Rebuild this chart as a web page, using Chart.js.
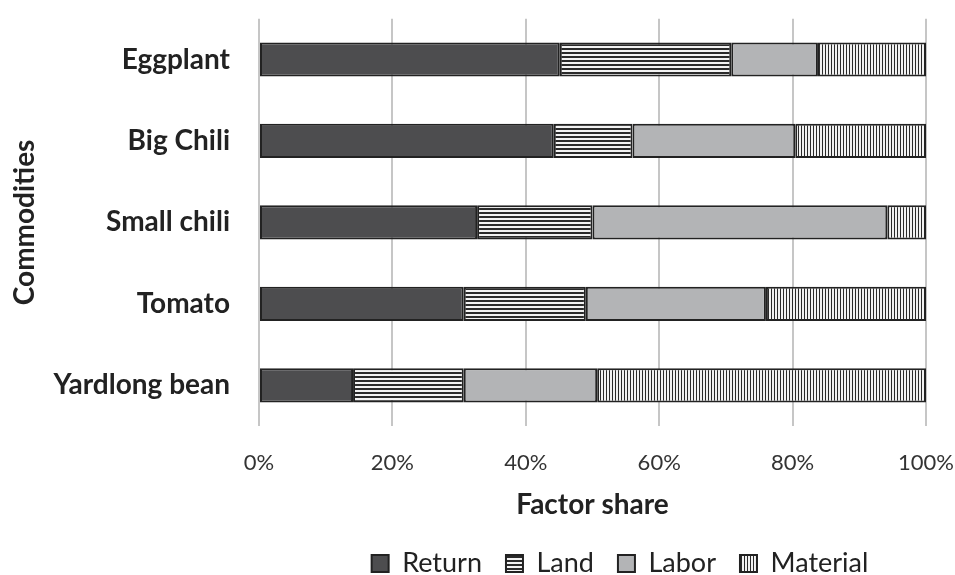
<!DOCTYPE html>
<html>
<head>
<meta charset="utf-8">
<script src="https://cdn.jsdelivr.net/npm/chart.js@4.4.0/dist/chart.umd.min.js"></script>
<style>
  html, body { margin: 0; padding: 0; background: #fff; }
  #wrap { width: 955px; height: 575px; }
</style>
</head>
<body>
<div id="wrap"><canvas id="grafico" width="955" height="575"></canvas></div>
<script>
// datos (porcentaje de cada factor)
const commodities = ["Eggplant", "Big Chili", "Small chili", "Tomato", "Yardlong bean"];
const returnShare = [45.1, 44.2, 32.7, 30.7, 14.1];
const landShare = [25.7, 11.8, 17.3, 18.3, 16.6];
const laborShare = [13.0, 24.4, 44.2, 27.0, 20.0];
const materialShare = [16.2, 19.6, 5.8, 24.0, 49.3];
const xTicks = [0, 20, 40, 60, 80, 100];

// patrones de rayas
function rayas(vertical) {
  const c = document.createElement('canvas');
  const n = vertical ? 3 : 4;
  c.width = n; c.height = n;
  const ctx = c.getContext('2d');
  ctx.fillStyle = '#f2f2f2';
  ctx.fillRect(0, 0, n, n);
  ctx.fillStyle = '#2a2a2a';
  if (vertical) ctx.fillRect(0, 0, 1, n);
  else ctx.fillRect(0, 0, n, 2);
  return ctx.createPattern(c, 'repeat');
}

const fuente = "Lato, 'Open Sans', sans-serif";
const borde = '#222';

const fondoBlanco = {
  id: 'fondoBlanco',
  beforeDraw(chart) {
    const ctx = chart.ctx;
    ctx.save();
    ctx.fillStyle = '#fff';
    ctx.fillRect(0, 0, chart.width, chart.height);
    ctx.restore();
  }
};

// mover la leyenda un poco a la derecha y abajo, como en el original
const moverLeyenda = {
  id: 'moverLeyenda',
  afterLayout(chart) {
    const lg = chart.legend;
    const dx = 620 - (lg.left + lg.right) / 2;
    lg.left += dx; lg.right += dx;
    lg.top += 26; lg.bottom += 26;
  }
};

function serie(label, data, color) {
  return {
    label: label,
    data: data,
    backgroundColor: color,
    borderColor: borde,
    borderWidth: 2,
    borderSkipped: false,
    barPercentage: 0.42,
    categoryPercentage: 1
  };
}

new Chart(document.getElementById('grafico'), {
  type: 'bar',
  data: {
    labels: commodities,
    datasets: [
      serie('Return', returnShare, '#4d4d4f'),
      serie('Land', landShare, rayas(false)),
      serie('Labor', laborShare, '#b3b4b6'),
      serie('Material', materialShare, rayas(true))
    ]
  },
  options: {
    indexAxis: 'y',
    responsive: false,
    animation: false,
    layout: { padding: { top: 16, right: 29, left: 0, bottom: 14 } },
    plugins: {
      tooltip: { enabled: false },
      legend: {
        position: 'bottom',
        labels: {
          boxWidth: 17,
          boxHeight: 17,
          padding: 24,
          color: '#222',
          font: { family: fuente, size: 27 }
        }
      }
    },
    scales: {
      x: {
        stacked: true,
        min: 0,
        max: 100,
        afterBuildTicks: (s) => { s.ticks = xTicks.map(v => ({ value: v })); },
        afterFit: (s) => { s.height = 74; },
        ticks: {
          callback: (v) => v + '%',
          color: '#333',
          padding: 0,
          font: { family: fuente, size: 22 }
        },
        grid: { color: '#c6c6c6', lineWidth: 2, drawTicks: true, tickLength: 24, tickColor: 'rgba(0,0,0,0)' },
        border: { display: false },
        title: {
          display: true,
          text: 'Factor share',
          color: '#222',
          padding: { top: 0, bottom: -22 },
          font: { family: fuente, size: 28, weight: 'bold' }
        }
      },
      y: {
        stacked: true,
        afterFit: (s) => { s.width = 259; },
        ticks: {
          color: '#222',
          padding: 2,
          font: { family: fuente, size: 28, weight: 'bold' }
        },
        grid: { display: false, drawTicks: true, tickLength: 27 },
        border: { display: false },
        title: {
          display: true,
          text: 'Commodities',
          color: '#222',
          padding: { top: 8, bottom: 0 },
          font: { family: fuente, size: 28, weight: 'bold' }
        }
      }
    }
  },
  plugins: [fondoBlanco, moverLeyenda]
});
</script>
</body>
</html>
